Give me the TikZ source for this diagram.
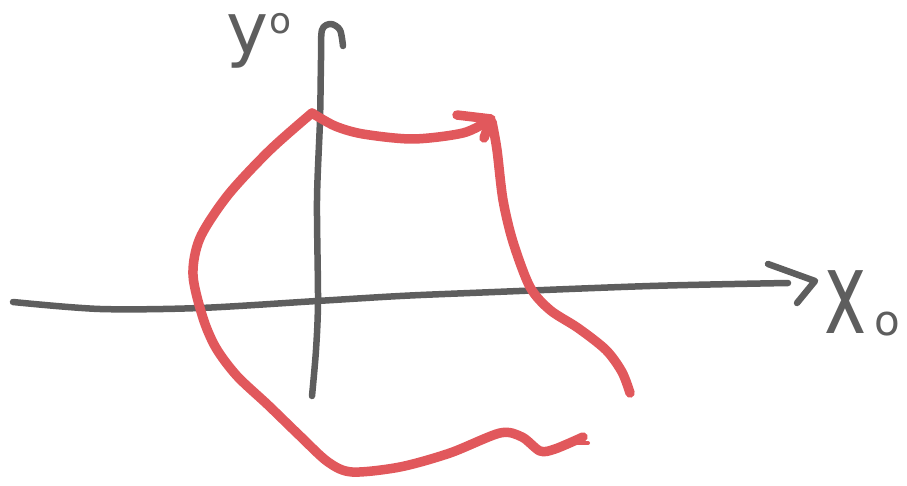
\documentclass[tikz,border=0pt]{standalone}
\usepackage{fontspec}
\setmainfont{DejaVu Sans}
\usepackage{graphicx}
\definecolor{penred}{HTML}{E1585C}
\definecolor{pengrey}{HTML}{5E5E5E}
\tikzset{
  redstroke/.style={draw=penred, line width=9.5pt, line cap=round, line join=round},
  greystroke/.style={draw=pengrey, line width=6.5pt, line cap=round, line join=round},
  handlabel/.style={text=pengrey, inner sep=0pt, anchor=base west}
}
\begin{document}
\begin{tikzpicture}[x=1pt,y=-1pt]
\useasboundingbox (0,0) rectangle (907,486);
% x axis
\draw[greystroke] plot[smooth] coordinates {(13,302) (100,309) (200,308) (317,301) (400,296) (470,293) (650,286) (788,283)};
\coordinate (xa1) at (768,264);
\coordinate (xa2) at (815,281);
\coordinate (xa3) at (797,303);
\draw[greystroke] (xa1) -- (xa2) -- (xa3);
% y axis with hook
\draw[greystroke] plot[smooth] coordinates {(312,396) (316,350) (318,300) (317,200) (320,120) (321,60) (322,30) (331,24) (340,30) (343,46)};
% labels
\node[handlabel, text height=42pt] (ylab) at (226,54) {\fontsize{71}{71}\selectfont y\kern1pt\raisebox{20pt}{\fontsize{36}{36}\selectfont o}};
\node[handlabel] (xlab) at (824,333) {\scalebox{0.62}[1]{\fontsize{115}{115}\selectfont x}\kern8pt\raisebox{-2pt}{\fontsize{42}{42}\selectfont o}};
% red curve: bottom and left side up to the peak
\draw[redstroke] plot[smooth] coordinates {(583,437) (555,449) (540,451) (522,437) (500,433) (450,453) (400,467) (352,472) (328,462) (300,436) (268,405) (237,376) (216,348) (203,318) (193,275) (200,238) (228,195) (270,150) (312,113)};
% top stroke to the arrow
\draw[redstroke] plot[smooth] coordinates {(312,113) (335,126) (363,134) (413,139) (463,133) (488,121)};
\coordinate (ra1) at (457,115);
\coordinate (ra2) at (491,119);
\coordinate (ra3) at (484,138);
\draw[redstroke] (ra1) -- (ra2) -- (ra3);
% right side going down
\draw[redstroke] plot[smooth] coordinates {(492,122) (497,150) (503,200) (513,242) (530,287) (550,310) (578,328) (606,350) (622,372) (630,393)};
% small fork at the end of the bottom stroke
\coordinate (rf1) at (568,443);
\coordinate (rf2) at (588,443);
\draw[penred, line width=4pt, line cap=round] (rf1) -- (rf2);
\end{tikzpicture}
\end{document}
